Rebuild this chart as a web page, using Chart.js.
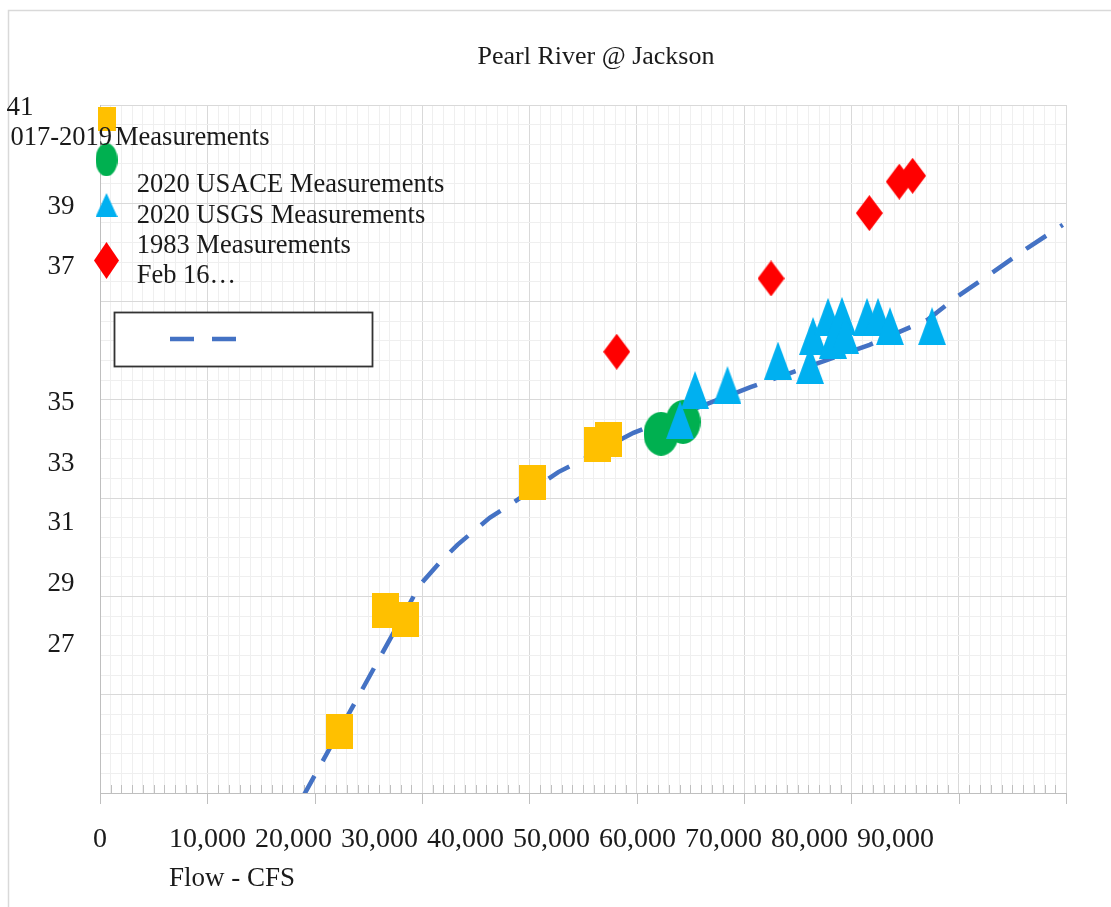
<!DOCTYPE html>
<html>
<head>
<meta charset="utf-8">
<script src="https://cdn.jsdelivr.net/npm/chart.js@4.4.1/dist/chart.umd.min.js"></script>
<style>
  html, body { margin: 0; padding: 0; background: #ffffff; }
  canvas { display: block; }
</style>
</head>
<body>
<canvas id="rating" width="1111" height="907"></canvas>
<script>
// Stage (ft) versus flow (cfs) measurements, Pearl River at Jackson
const meas2017Flow  = [22360, 26600, 28420, 40340, 46310, 47420];
const meas2017Stage = [28.26, 30.72, 30.53, 33.31, 34.10, 34.20];

const usace2020Flow  = [52270, 54320];
const usace2020Stage = [34.31, 34.55];

const usgs2020Flow  = [54040, 55440, 58460, 63170, 66150, 66430, 67830, 68290, 69130, 69410, 71460, 72490, 73600, 77520];
const usgs2020Stage = [34.59, 35.20, 35.30, 35.80, 35.71, 36.30, 36.69, 36.22, 36.71, 36.32, 36.69, 36.69, 36.50, 36.50];

const meas1983Flow  = [48140, 62520, 71680, 74470, 75710];
const meas1983Stage = [35.98, 37.47, 38.80, 39.44, 39.56];

// Rating curve (dashed)
const ratingFlow  = [18900, 29800, 31700, 33300, 36300, 37900, 42700, 44400, 49700, 60600, 67700, 71700, 77100, 79800, 83200, 86400, 89700];
const ratingStage = [26.92, 31.23, 31.70, 32.05, 32.60, 32.82, 33.53, 33.72, 34.33, 35.26, 35.81, 36.12, 36.63, 37.09, 37.60, 38.09, 38.56];

const chartTitle = 'Pearl River @ Jackson';
const xAxisTitle = 'Flow - CFS';
const xTickLabels = ['0', '10,000', '20,000', '30,000', '40,000', '50,000', '60,000', '70,000', '80,000', '90,000'];
const yTickLabels = ['41', '39', '37', '35', '33', '31', '29', '27'];
const legendLines = ['2017-2019', 'Measurements', '2020 USACE Measurements', '2020 USGS Measurements', '1983 Measurements', 'Feb 16\u2026'];

const X_MIN = 0, X_MAX = 90000, X_MINOR = 1000, X_MAJOR = 10000;
const Y_MIN = 27, Y_MAX = 41, Y_MINOR = 0.4, Y_MAJOR = 2;

const COLORS = {
  gold: '#FFC000', green: '#00B050', cyan: '#00B0F0', red: '#FF0000', blue: '#4472C4',
  gridMajor: '#d9d9d9', gridMinor: '#efefef', axis: '#bfbfbf', text: '#1a1a1a', frame: '#d9d9d9'
};
const SERIF = '"Liberation Serif", "Times New Roman", serif';

// Build a marker bitmap used as a Chart.js pointStyle
function marker(shape, w, h, color) {
  const c = document.createElement('canvas');
  c.width = w; c.height = h;
  const g = c.getContext('2d');
  g.fillStyle = color;
  g.beginPath();
  if (shape === 'rect') {
    g.rect(0, 0, w, h);
  } else if (shape === 'ellipse') {
    g.ellipse(w / 2, h / 2, w / 2, h / 2, 0, 0, Math.PI * 2);
  } else if (shape === 'triangle') {
    g.moveTo(w / 2, 0); g.lineTo(w, h); g.lineTo(0, h); g.closePath();
  } else if (shape === 'diamond') {
    g.moveTo(w / 2, 0); g.lineTo(w, h / 2); g.lineTo(w / 2, h); g.lineTo(0, h / 2); g.closePath();
  }
  g.fill();
  return c;
}

const pts = (xs, ys) => xs.map((x, i) => ({ x, y: ys[i] }));

const markSquare   = marker('rect', 27, 35, COLORS.gold);
const markCircle   = marker('ellipse', 35, 44, COLORS.green);
const markTriangle = marker('triangle', 28, 38, COLORS.cyan);
const markDiamond  = marker('diamond', 27, 36, COLORS.red);

const legendMarks = [
  { img: marker('rect', 18, 24, COLORS.gold),       cx: 107,   cy: 118.5 },
  { img: marker('ellipse', 22, 33, COLORS.green),   cx: 106.5, cy: 159.7 },
  { img: marker('triangle', 22, 24, COLORS.cyan),   cx: 106.5, cy: 205 },
  { img: marker('diamond', 25, 37, COLORS.red),     cx: 106.5, cy: 260.5 }
];

// Text layout
const yLabelPos = [
  { x: 6.5, base: 115, align: 'left' },
  { x: 74.5, base: 214, align: 'right' },
  { x: 74.5, base: 274, align: 'right' },
  { x: 74.5, base: 410, align: 'right' },
  { x: 74.5, base: 471, align: 'right' },
  { x: 74.5, base: 530, align: 'right' },
  { x: 74.5, base: 591, align: 'right' },
  { x: 74.5, base: 652, align: 'right' }
];
// The first line runs past the left edge of the chart box, so its leading digit is cut off
const legendTextPos = [
  { x: 112, base: 145, align: 'right', cutFirstChar: true },
  { x: 115, base: 145, align: 'left' },
  { x: 136.7, base: 191.7, align: 'left' },
  { x: 136.7, base: 222.7, align: 'left' },
  { x: 136.7, base: 253.3, align: 'left' },
  { x: 136.7, base: 283.3, align: 'left' }
];

const decor = {
  id: 'decor',
  beforeDatasetsDraw(chart) {
    const { ctx, chartArea: a, scales: { x } } = chart;
    ctx.save();
    ctx.strokeStyle = COLORS.axis;
    ctx.lineWidth = 1;
    ctx.beginPath();
    for (let v = X_MIN; v <= X_MAX; v += X_MINOR) {
      const px = Math.round(x.getPixelForValue(v)) + 0.5;
      if (v % X_MAJOR === 0) {
        ctx.moveTo(px, a.bottom); ctx.lineTo(px, a.bottom + 11);
      } else {
        ctx.moveTo(px, a.bottom - 8); ctx.lineTo(px, a.bottom);
      }
    }
    ctx.stroke();
    ctx.restore();
  },
  afterDraw(chart) {
    const { ctx, scales: { x } } = chart;
    ctx.save();

    // outer frame
    ctx.strokeStyle = COLORS.frame;
    ctx.lineWidth = 1.5;
    ctx.beginPath();
    ctx.moveTo(8.5, chart.height); ctx.lineTo(8.5, 10.5); ctx.lineTo(chart.width, 10.5);
    ctx.stroke();

    ctx.fillStyle = COLORS.text;
    ctx.textBaseline = 'alphabetic';

    // title
    ctx.font = '26px ' + SERIF;
    ctx.textAlign = 'center';
    ctx.fillText(chartTitle, 596, 64);

    // y tick labels
    ctx.font = '27px ' + SERIF;
    yTickLabels.forEach((t, i) => {
      const p = yLabelPos[i];
      ctx.textAlign = p.align;
      ctx.fillText(t, p.x, p.base);
    });

    // x tick labels
    ctx.font = '28px ' + SERIF;
    ctx.textAlign = 'center';
    ctx.fillText(xTickLabels[0], x.getPixelForValue(0), 847);
    ctx.textAlign = 'left';
    for (let i = 1; i < xTickLabels.length; i++) {
      ctx.fillText(xTickLabels[i], 169 + (i - 1) * 86, 847);
    }

    // x axis title
    ctx.font = '27px ' + SERIF;
    ctx.textAlign = 'left';
    ctx.fillText(xAxisTitle, 169, 886);

    // legend markers
    legendMarks.forEach(m => {
      ctx.drawImage(m.img, m.cx - m.img.width / 2, m.cy - m.img.height / 2);
    });

    // legend text
    ctx.font = '26.5px ' + SERIF;
    legendLines.forEach((t, i) => {
      const p = legendTextPos[i];
      ctx.save();
      if (p.cutFirstChar) {
        const left = p.x - ctx.measureText(t.slice(1)).width;
        ctx.beginPath();
        ctx.rect(left - 0.5, 0, chart.width, chart.height);
        ctx.clip();
      }
      ctx.fillStyle = COLORS.text;
      ctx.textAlign = p.align;
      ctx.fillText(t, p.x, p.base);
      ctx.restore();
    });

    // legend entry for the rating curve
    ctx.fillStyle = '#ffffff';
    ctx.fillRect(115, 313, 257, 53);
    ctx.strokeStyle = '#333333';
    ctx.lineWidth = 1.8;
    ctx.strokeRect(114.5, 312.5, 258, 54);
    ctx.strokeStyle = COLORS.blue;
    ctx.lineWidth = 4.5;
    ctx.setLineDash([24, 18]);
    ctx.beginPath();
    ctx.moveTo(170, 339); ctx.lineTo(236, 339);
    ctx.stroke();
    ctx.setLineDash([]);

    ctx.restore();
  }
};

const xTicks = [];
for (let v = X_MIN; v <= X_MAX; v += X_MINOR) xTicks.push(v);
const yTicks = [];
for (let i = 0; i <= Math.round((Y_MAX - Y_MIN) / Y_MINOR); i++) yTicks.push(+(Y_MIN + i * Y_MINOR).toFixed(1));

const isYMajor = v => Math.abs((v - Y_MIN) / Y_MAJOR - Math.round((v - Y_MIN) / Y_MAJOR)) < 1e-6;

new Chart(document.getElementById('rating'), {
  type: 'scatter',
  data: {
    datasets: [
      { label: '2017-2019 Measurements', data: pts(meas2017Flow, meas2017Stage), pointStyle: markSquare, backgroundColor: COLORS.gold, order: 4 },
      { label: '2020 USACE Measurements', data: pts(usace2020Flow, usace2020Stage), pointStyle: markCircle, backgroundColor: COLORS.green, order: 3 },
      { label: '2020 USGS Measurements', data: pts(usgs2020Flow, usgs2020Stage), pointStyle: markTriangle, backgroundColor: COLORS.cyan, order: 2 },
      { label: '1983 Measurements Feb 16', data: pts(meas1983Flow, meas1983Stage), pointStyle: markDiamond, backgroundColor: COLORS.red, order: 1 },
      { label: 'Rating', data: pts(ratingFlow, ratingStage), showLine: true, borderColor: COLORS.blue, borderWidth: 4.5,
        borderDash: [24, 17], borderCapStyle: 'butt', pointRadius: 0, tension: 0, fill: false, order: 5 }
    ]
  },
  options: {
    responsive: false,
    animation: false,
    events: [],
    layout: { padding: { left: 100, right: 45, top: 105, bottom: 114 } },
    plugins: { legend: { display: false }, title: { display: false }, tooltip: { enabled: false } },
    scales: {
      x: {
        type: 'linear', min: X_MIN, max: X_MAX,
        afterBuildTicks: s => { s.ticks = xTicks.map(value => ({ value })); },
        ticks: { display: false },
        grid: { drawTicks: false, lineWidth: 1, color: c => (c.tick && c.tick.value % X_MAJOR === 0) ? COLORS.gridMajor : COLORS.gridMinor },
        border: { display: true, color: COLORS.axis, width: 1 }
      },
      y: {
        type: 'linear', min: Y_MIN, max: Y_MAX,
        afterBuildTicks: s => { s.ticks = yTicks.map(value => ({ value })); },
        ticks: { display: false },
        grid: { drawTicks: false, lineWidth: 1, color: c => (c.tick && isYMajor(c.tick.value)) ? COLORS.gridMajor : COLORS.gridMinor },
        border: { display: true, color: COLORS.axis, width: 1 }
      }
    }
  },
  plugins: [decor]
});
</script>
</body>
</html>
